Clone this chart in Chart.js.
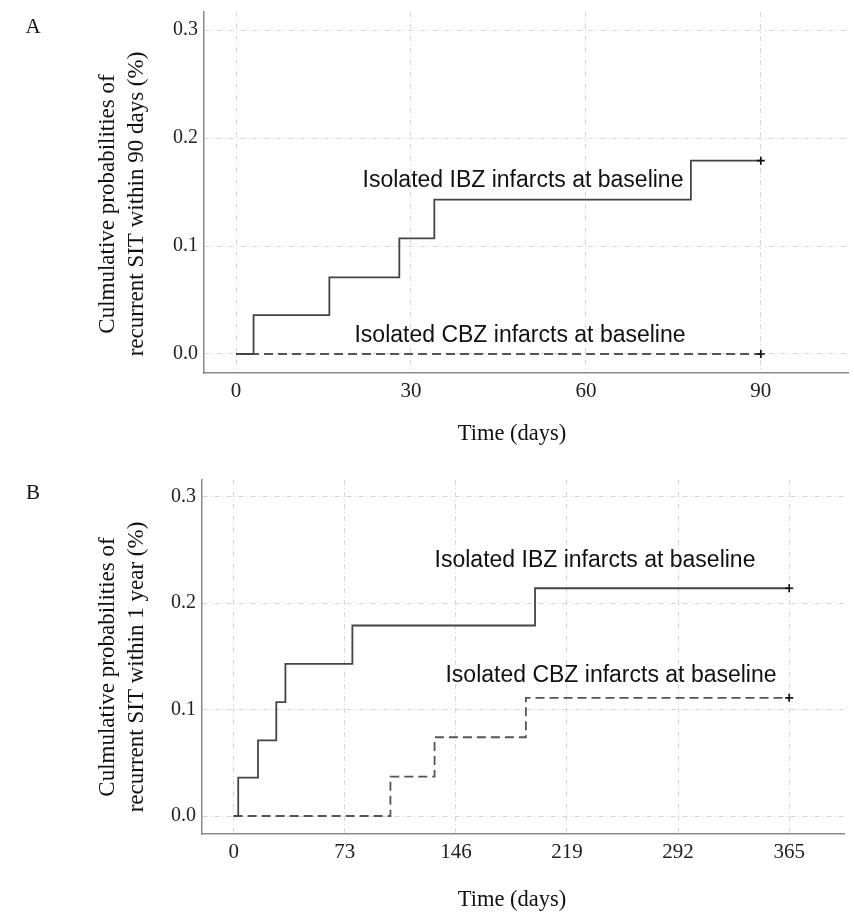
<!DOCTYPE html>
<html>
<head>
<meta charset="utf-8">
<script src="https://cdn.jsdelivr.net/npm/chart.js@4/dist/chart.umd.min.js"></script>
<style>
  body { margin: 0; background: #fff; }
  canvas { position: absolute; left: 0; }
</style>
</head>
<body>
<canvas id="chartA" width="854" height="460" style="top:0"></canvas>
<canvas id="chartB" width="854" height="458" style="top:460px"></canvas>
<script>
// Panel A: 90 days follow-up
const ibzDaysA = [0, 3, 16, 28, 34, 78, 90];
const ibzProbA = [0, 0.036, 0.071, 0.107, 0.143, 0.179, 0.179];
const cbzDaysA = [0, 90];
const cbzProbA = [0, 0];
const xTicksA = [0, 30, 60, 90];

// Panel B: 1 year follow-up
const ibzDaysB = [0, 3, 16, 28, 34, 78, 198, 365];
const ibzProbB = [0, 0.036, 0.071, 0.107, 0.143, 0.179, 0.214, 0.214];
const cbzDaysB = [0, 103, 132, 192, 365];
const cbzProbB = [0, 0.037, 0.074, 0.111, 0.111];
const xTicksB = [0, 73, 146, 219, 292, 365];

const yTicks = [0, 0.1, 0.2, 0.3];

const serif = '"Liberation Serif", "Times New Roman", serif';
const sans = '"Liberation Sans", Arial, sans-serif';

function toPoints(xs, ys) {
  return xs.map((x, i) => ({ x: x, y: ys[i] }));
}

// censor mark only on the last point
function lastOnly(arr, val) {
  return arr.map((_, i) => (i === arr.length - 1 ? val : 0));
}

// Text drawn on top: panel letter, axis titles, curve labels
const textPlugin = {
  id: 'panelText',
  afterDraw(chart, args, opts) {
    const ctx = chart.ctx;
    ctx.save();
    ctx.fillStyle = '#111';
    ctx.textAlign = 'center';
    ctx.textBaseline = 'middle';

    ctx.font = '21px ' + serif;
    ctx.fillText(opts.letter, 33, opts.letterY);

    // y axis title, two lines rotated
    ctx.save();
    ctx.translate(opts.yTitleX, opts.yTitleY);
    ctx.rotate(-Math.PI / 2);
    ctx.font = '23px ' + serif;
    ctx.fillText(opts.yTitle[0], 0, 0);
    ctx.fillText(opts.yTitle[1], 0, 29);
    ctx.restore();

    ctx.font = '22.5px ' + serif;
    ctx.fillText('Time (days)', 512, opts.xTitleY);

    ctx.font = '23px ' + sans;
    opts.labels.forEach(l => ctx.fillText(l.text, l.x, l.y));
    ctx.restore();
  }
};

function makeChart(id, cfg) {
  return new Chart(document.getElementById(id), {
    type: 'scatter',
    data: {
      datasets: [
        {
          label: 'Isolated IBZ infarcts at baseline',
          data: toPoints(cfg.ibzDays, cfg.ibzProb),
          showLine: true,
          stepped: true,
          borderColor: '#444',
          borderWidth: 1.8,
          pointStyle: 'cross',
          pointRadius: lastOnly(cfg.ibzDays, 4),
          pointBorderColor: '#111',
          pointBorderWidth: 1.7
        },
        {
          label: 'Isolated CBZ infarcts at baseline',
          data: toPoints(cfg.cbzDays, cfg.cbzProb),
          showLine: true,
          stepped: true,
          borderColor: '#555',
          borderWidth: 1.8,
          borderDash: [9, 5],
          pointStyle: 'cross',
          pointRadius: lastOnly(cfg.cbzDays, 4),
          pointBorderColor: '#111',
          pointBorderWidth: 1.7
        }
      ]
    },
    options: {
      responsive: false,
      animation: false,
      layout: { padding: { top: cfg.top, right: cfg.right, left: 0, bottom: 0 } },
      plugins: {
        legend: { display: false },
        tooltip: { enabled: false },
        panelText: cfg.text
      },
      scales: {
        x: {
          type: 'linear',
          min: cfg.xMin,
          max: cfg.xMax,
          afterBuildTicks: s => { s.ticks = cfg.xTicks.map(v => ({ value: v })); },
          afterFit: s => {
            s.height = cfg.xAxisHeight;
            s.paddingLeft = 0;
            s.paddingRight = 0;
          },
          ticks: { color: '#222', font: { family: serif, size: 21 }, padding: 6 },
          grid: { color: '#d6d6d6', drawTicks: false },
          border: { color: '#8a8a8a', width: 1.5, dash: [5, 3, 1, 3] }
        },
        y: {
          min: cfg.yMin,
          max: cfg.yMax,
          afterBuildTicks: s => { s.ticks = yTicks.map(v => ({ value: v })); },
          afterFit: s => {
            s.width = cfg.yAxisWidth;
            s.paddingTop = 0;
            s.paddingBottom = 0;
          },
          ticks: {
            color: '#222',
            font: { family: serif, size: 20 },
            padding: 6,
            callback: v => v.toFixed(1)
          },
          grid: { color: '#d6d6d6', drawTicks: false },
          border: { color: '#8a8a8a', width: 1.5, dash: [5, 3, 1, 3] }
        }
      }
    },
    plugins: [textPlugin]
  });
}

makeChart('chartA', {
  ibzDays: ibzDaysA, ibzProb: ibzProbA, cbzDays: cbzDaysA, cbzProb: cbzProbA,
  xTicks: xTicksA, xMin: -5.5, xMax: 105, yMin: -0.0176, yMax: 0.3167,
  top: 12, right: -6, xAxisHeight: 87, yAxisWidth: 204,
  text: {
    letter: 'A', letterY: 27,
    yTitle: ['Culmulative probabilities of', 'recurrent SIT within 90 days (%)'],
    yTitleX: 108, yTitleY: 204, xTitleY: 434,
    labels: [
      { text: 'Isolated IBZ infarcts at baseline', x: 523, y: 181 },
      { text: 'Isolated CBZ infarcts at baseline', x: 520, y: 336 }
    ]
  }
});

makeChart('chartB', {
  ibzDays: ibzDaysB, ibzProb: ibzProbB, cbzDays: cbzDaysB, cbzProb: cbzProbB,
  xTicks: xTicksB, xMin: -20.8, xMax: 401, yMin: -0.0169, yMax: 0.3157,
  top: 20, right: 10, xAxisHeight: 84, yAxisWidth: 202,
  text: {
    letter: 'B', letterY: 33,
    yTitle: ['Culmulative probabilities of', 'recurrent SIT within 1 year (%)'],
    yTitleX: 108, yTitleY: 207, xTitleY: 440,
    labels: [
      { text: 'Isolated IBZ infarcts at baseline', x: 595, y: 101 },
      { text: 'Isolated CBZ infarcts at baseline', x: 611, y: 216 }
    ]
  }
});
</script>
</body>
</html>
